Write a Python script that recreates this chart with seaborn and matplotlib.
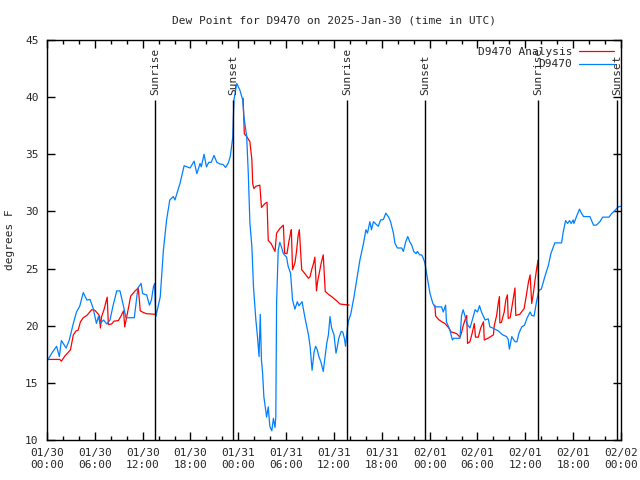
import numpy as np
import pandas as pd
import matplotlib
matplotlib.use('Agg')
import matplotlib.pyplot as plt
import matplotlib.dates as mdates
from matplotlib.lines import Line2D
import seaborn as sns

start = pd.Timestamp('2025-01-30 00:00')

# observed dew point (hours after 01/30 00:00 UTC, degrees F)
obs_hours = [0.1, 0.6, 1.2, 1.55, 1.8, 2.4, 2.8, 3.3, 3.7, 4.1,
             4.55, 5.0, 5.4, 5.8, 6.2, 6.45, 6.65, 7.1, 7.5, 7.9,
             8.3, 8.75, 9.15, 9.6, 9.9, 10.95, 11.4, 11.8, 12.0, 12.5,
             12.85, 13.1, 13.35, 13.5, 13.65, 14.2, 14.6, 15.0, 15.4, 15.85,
             16.05, 16.7, 17.2, 17.95, 18.45, 18.8, 19.2, 19.35, 19.7, 20.0,
             20.3, 20.6, 20.95, 21.3, 21.7, 22.1, 22.4, 22.75, 23.0, 23.3,
             23.45, 23.8, 24.2, 24.55, 24.7, 25.05, 25.25, 25.45, 25.7, 25.9,
             26.2, 26.4, 26.6, 26.75, 26.9, 27.05, 27.2, 27.55, 27.75, 27.95,
             28.2, 28.4, 28.6, 28.7, 28.8, 29.0, 29.2, 29.4, 29.65, 30.05,
             30.25, 30.55, 30.8, 31.1, 31.4, 31.6, 32.0, 32.25, 32.5, 32.8,
             33.0, 33.25, 33.5, 33.7, 33.9, 34.1, 34.35, 34.65, 34.9, 35.1,
             35.3, 35.5, 35.7, 36.0, 36.25, 36.4, 36.6, 36.9, 37.1, 37.3,
             37.45, 37.65, 37.8, 38.1, 38.5, 38.85, 39.25, 39.7, 40.0, 40.2,
             40.5, 40.7, 40.95, 41.25, 41.55, 41.85, 42.2, 42.5, 42.85, 43.1,
             43.45, 43.65, 43.95, 44.5, 44.7, 45.0, 45.25, 45.5, 45.75, 46.0,
             46.3, 46.45, 46.75, 47.0, 47.2, 47.4, 47.7, 48.05, 48.4, 48.65,
             49.5, 49.7, 50.0, 50.1, 50.55, 50.85, 51.0, 51.8, 52.0, 52.2,
             52.45, 52.65, 53.05, 53.35, 53.7, 54.0, 54.25, 54.5, 54.95, 55.35,
             55.55, 55.9, 56.6, 57.15, 57.65, 57.85, 58.0, 58.3, 58.7, 58.95,
             59.2, 59.55, 59.9, 60.2, 60.6, 60.8, 61.1, 61.4, 61.7, 62.0,
             62.45, 62.9, 63.2, 63.7, 64.55, 64.75, 65.05, 65.3, 65.55, 65.75,
             66.0, 66.1, 66.5, 66.8, 67.0, 67.3, 68.1, 68.55, 68.9, 69.35,
             69.7, 70.5, 70.8, 71.2, 71.65, 72.0]
obs_dew = [17.0, 17.6, 18.2, 17.3, 18.7, 18.05, 18.75, 20.2, 21.2, 21.7,
           22.9, 22.25, 22.3, 21.5, 20.2, 20.8, 20.2, 20.5, 20.15, 20.5,
           21.8, 23.05, 23.05, 21.7, 20.7, 20.7, 23.3, 23.7, 22.8, 22.7,
           21.8, 22.25, 23.4, 23.7, 20.8, 22.5, 26.6, 29.25, 31.0, 31.3,
           31.0, 32.5, 34.0, 33.8, 34.4, 33.3, 34.2, 33.9, 35.0, 33.9,
           34.3, 34.3, 34.9, 34.3, 34.15, 34.1, 33.85, 34.25, 34.85, 36.5,
           39.75, 41.2, 40.6, 39.75, 38.3, 36.55, 33.3, 29.0, 26.9, 23.4,
           20.5, 19.05, 17.3, 21.0, 17.0, 15.8, 13.8, 12.0, 12.9, 11.2,
           10.8, 11.9, 11.1, 12.0, 22.0, 26.6, 27.3, 26.9, 26.3, 26.0,
           25.2, 24.6, 22.25, 21.45, 22.1, 21.75, 22.1, 21.1, 20.2, 19.2,
           18.2, 16.1, 17.7, 18.2, 17.9, 17.3, 16.85, 16.0, 17.35, 18.5,
           19.2, 20.8, 19.8, 19.2, 17.6, 18.1, 18.9, 19.5, 19.45, 18.9,
           18.2, 19.6, 20.4, 21.0, 22.5, 24.0, 25.75, 27.2, 28.4, 28.1,
           29.1, 28.4, 29.1, 28.9, 28.7, 29.25, 29.3, 29.85, 29.5, 29.1,
           28.1, 27.2, 26.8, 26.8, 26.5, 27.35, 27.8, 27.35, 27.05, 26.5,
           26.3, 26.5, 26.2, 26.2, 25.9, 25.5, 24.2, 22.8, 21.95, 21.65,
           21.65, 21.2, 21.8, 20.35, 19.6, 18.75, 18.9, 18.9, 20.9, 21.4,
           20.8, 20.2, 19.8, 20.5, 21.4, 21.2, 21.75, 21.2, 20.5, 20.6,
           19.9, 19.8, 19.55, 19.2, 19.05, 18.8, 17.95, 19.05, 18.6, 18.6,
           19.35, 19.9, 20.05, 20.65, 21.2, 20.9, 20.85, 22.1, 23.1, 23.2,
           24.3, 25.3, 26.3, 27.25, 27.25, 28.2, 29.2, 28.95, 29.2, 28.95,
           29.25, 28.95, 29.7, 30.2, 29.9, 29.55, 29.55, 28.8, 28.8, 29.1,
           29.5, 29.5, 29.8, 30.05, 30.4, 30.45]

# analysis dew point, three separate pieces
ana1_hours = [0.1, 1.6, 1.8, 2.25, 2.7, 2.95, 3.3, 3.65, 3.9, 4.2,
              4.55, 5.0, 5.6, 6.0, 6.45, 6.6, 6.7, 6.85, 7.15, 7.4,
              7.55, 7.7, 8.1, 8.4, 8.95, 9.25, 9.6, 9.75, 9.95, 10.2,
              10.5, 10.75, 11.05, 11.45, 11.7, 12.1, 12.5, 13.55]
ana1_dew = [17.05, 17.05, 16.9, 17.35, 17.7, 17.9, 19.2, 19.55, 19.6, 20.35,
            20.7, 20.9, 21.4, 21.35, 21.0, 20.8, 19.8, 20.8, 21.4, 22.1,
            22.5, 20.1, 20.15, 20.4, 20.45, 20.8, 21.3, 19.9, 20.6, 21.5,
            22.6, 22.8, 23.05, 23.3, 21.3, 21.15, 21.05, 21.0]

ana2_hours = [24.6, 24.75, 25.05, 25.45, 25.7, 25.8, 25.95, 26.2, 26.7, 26.9,
              27.35, 27.6, 27.75, 28.1, 28.6, 28.8, 29.2, 29.65, 29.8, 30.1,
              30.35, 30.55, 30.65, 30.8, 31.1, 31.3, 31.5, 31.65, 31.95, 32.3,
              32.8, 33.0, 33.2, 33.45, 33.6, 33.8, 33.95, 34.15, 34.4, 34.65,
              34.9, 35.3, 35.7, 36.3, 36.75, 37.9]
ana2_dew = [39.9, 36.8, 36.55, 36.1, 34.5, 32.45, 32.0, 32.2, 32.3, 30.35,
            30.7, 30.8, 27.45, 27.2, 26.5, 28.1, 28.5, 28.8, 26.35, 26.3,
            27.4, 28.1, 28.4, 24.9, 25.5, 26.5, 27.9, 28.4, 24.9, 24.6,
            24.15, 24.3, 24.9, 25.5, 26.0, 23.05, 23.9, 24.6, 25.5, 26.2,
            23.0, 22.75, 22.55, 22.2, 21.9, 21.8]

ana3_hours = [48.65, 48.75, 49.1, 49.5, 49.9, 50.35, 50.7, 51.0, 51.4, 51.8,
              52.0, 52.2, 52.5, 52.65, 52.75, 53.05, 53.35, 53.6, 53.75, 54.1,
              54.4, 54.75, 54.85, 55.3, 56.0, 56.1, 56.4, 56.6, 56.75, 56.8,
              57.0, 57.35, 57.55, 57.75, 57.85, 58.1, 58.4, 58.7, 58.8, 59.3,
              59.85, 60.1, 60.4, 60.6, 60.8, 61.0, 61.2, 61.4, 61.6, 61.65]
ana3_dew = [21.8, 20.85, 20.55, 20.35, 20.2, 19.85, 19.45, 19.4, 19.3, 19.0,
            19.4, 20.0, 20.65, 20.9, 18.45, 18.6, 19.4, 20.2, 19.0, 19.0,
            19.8, 20.35, 18.75, 18.9, 19.2, 20.0, 20.9, 21.95, 22.55, 20.25,
            20.3, 21.2, 22.25, 22.7, 20.65, 20.7, 22.0, 23.3, 20.9, 21.0,
            21.5, 22.55, 23.85, 24.45, 21.95, 22.8, 23.9, 24.9, 25.75, 23.0]

sunrise_hours = [13.6, 37.6, 61.6]
sunset_hours = [23.35, 47.45, 71.55]


def to_time(hours):
    return start + pd.to_timedelta(np.asarray(hours), unit='h')


obs = pd.DataFrame({'time': to_time(obs_hours), 'dew': obs_dew})
pieces = [(ana1_hours, ana1_dew), (ana2_hours, ana2_dew), (ana3_hours, ana3_dew)]
ana = pd.concat([pd.DataFrame({'time': to_time(h), 'dew': v, 'seg': i})
                 for i, (h, v) in enumerate(pieces)], ignore_index=True)

sns.set_style('ticks')
plt.rcParams['font.family'] = ['DejaVu Sans Mono']

red = '#ff0000'
blue = '#0080ff'

fig = plt.figure(figsize=(6.4, 4.8), dpi=100)
ax = fig.add_axes([47 / 640, 40 / 480, 574 / 640, 400 / 480])

sns.lineplot(data=ana, x='time', y='dew', units='seg', estimator=None,
             color=red, lw=0.9, ax=ax, legend=False)
sns.lineplot(data=obs, x='time', y='dew', color=blue, lw=0.9, ax=ax,
             legend=False)

# sunrise / sunset markers
for hrs, name in [(sunrise_hours, 'Sunrise'), (sunset_hours, 'Sunset')]:
    for t in to_time(hrs):
        ax.vlines(t, 10, 39.75, color='black', lw=1)
        ax.text(t, 40.15, name, rotation=90, ha='center', va='bottom',
                fontsize=8)

ax.set_xlim(start, start + pd.Timedelta(hours=72))
ax.set_ylim(10, 45)
ax.set_yticks(range(10, 46, 5))
ax.xaxis.set_major_locator(mdates.HourLocator(byhour=[0, 6, 12, 18]))
ax.xaxis.set_minor_locator(mdates.HourLocator(byhour=range(0, 24, 2)))
ax.xaxis.set_major_formatter(mdates.DateFormatter('%m/%d\n%H:%M'))
ax.tick_params(which='major', direction='in', top=True, right=True,
               length=6, width=1, labelsize=8, pad=6, color='black')
ax.tick_params(which='minor', direction='in', top=True, right=True,
               length=3, width=1, color='black')
for s in ax.spines.values():
    s.set_color('black')
    s.set_linewidth(1)

ax.set_xlabel('')
ax.set_ylabel('degrees F', fontsize=8, labelpad=7)
ax.set_title('Dew Point for D9470 on 2025-Jan-30 (time in UTC)',
             fontsize=8, pad=12)

handles = [Line2D([], [], color=red, lw=0.9), Line2D([], [], color=blue, lw=0.9)]
ax.legend(handles, ['D9470 Analysis', 'D9470'], loc='upper right',
          frameon=False, markerfirst=False, fontsize=8, handlelength=3.2,
          labelspacing=0.25, borderaxespad=0.2, handletextpad=0.6)

fig.savefig('out.png', dpi=100)
